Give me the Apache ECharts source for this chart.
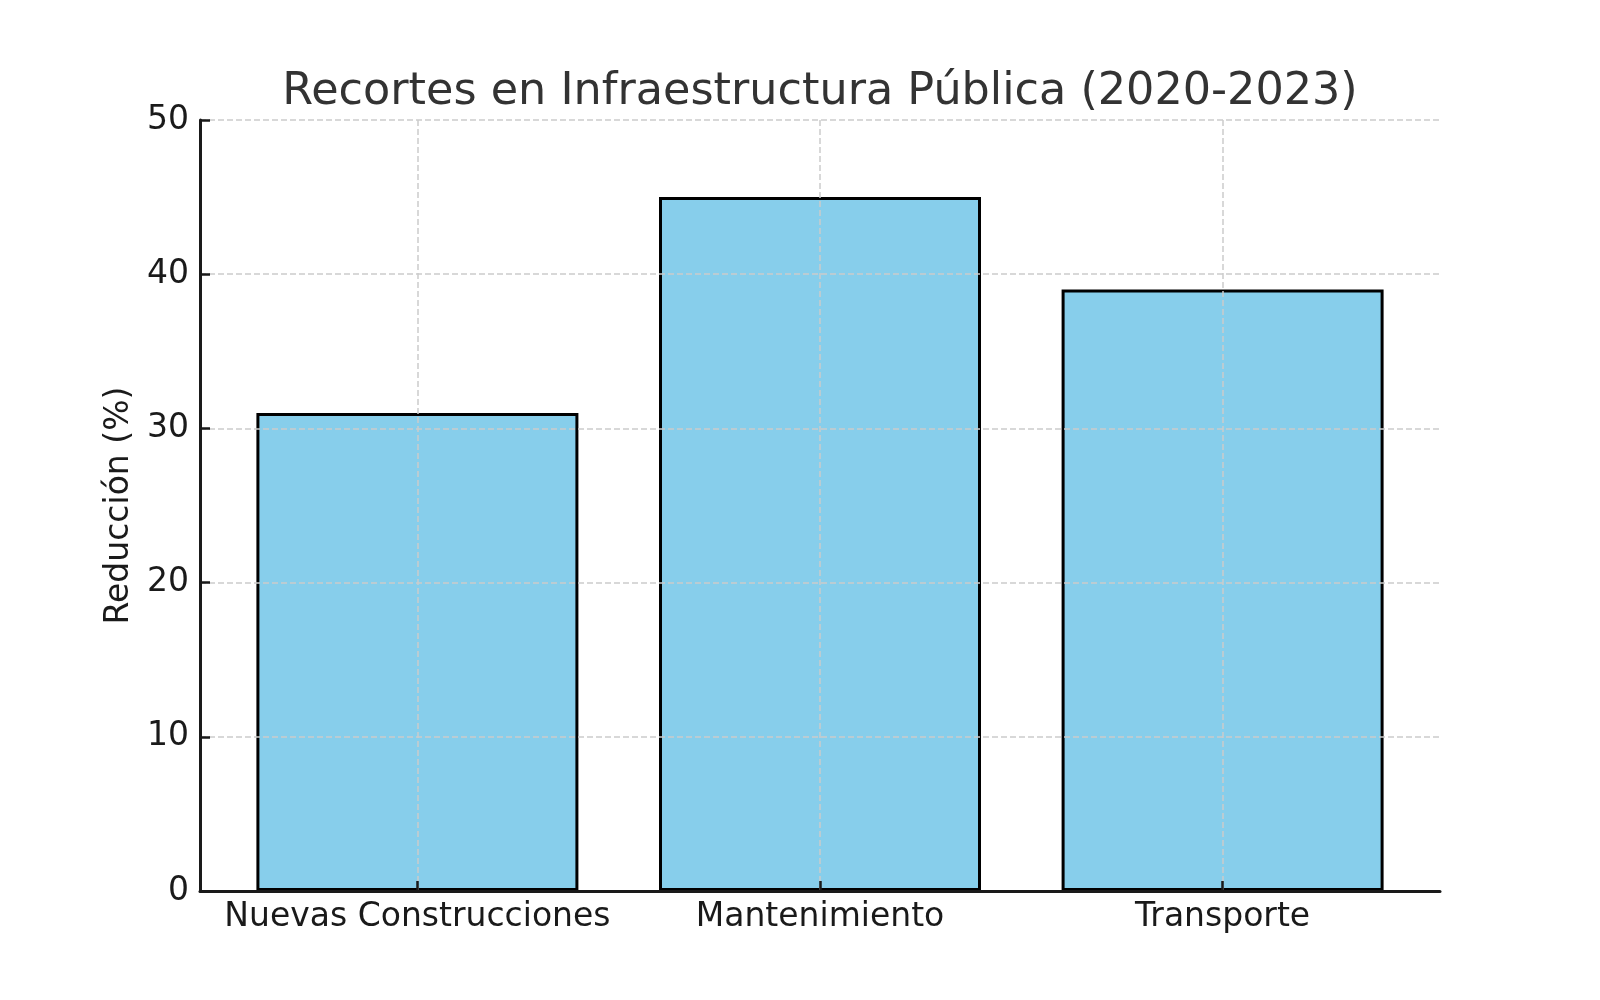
<!DOCTYPE html>
<html>
<head>
<meta charset="utf-8">
<script src="https://cdn.jsdelivr.net/npm/echarts@6/dist/echarts.min.js"></script>
<style>
  html, body { margin: 0; padding: 0; background: #fff; }
  #chart { width: 1600px; height: 1000px; }
</style>
</head>
<body>
<div id="chart"></div>
<script>
// categorias y valores (% de reduccion)
var categories = ['Nuevas Construcciones', 'Mantenimiento', 'Transporte'];
var reduccion = [31, 45, 39];
var yTicks = [0, 10, 20, 30, 40, 50];

var font = 'DejaVu Sans';
var positions = categories.map(function (c, i) { return i; });

var chart = echarts.init(document.getElementById('chart'));
var option = {
    backgroundColor: '#fff',
    animation: false,
    title: {
        text: 'Recortes en Infraestructura Pública (2020-2023)',
        left: 815,
        textAlign: 'center',
        top: 65,
        textStyle: { fontFamily: font, fontSize: 44.5, fontWeight: 'normal', color: '#333' }
    },
    grid: { left: 200, right: 160, top: 120, bottom: 109, containLabel: false },
    xAxis: {
        type: 'value',
        min: -0.54,
        max: 2.54,
        z: 5,
        axisLine: { show: true, onZero: false, lineStyle: { color: '#1a1a1a', width: 3 } },
        axisTick: { show: true, inside: true, length: 10, customValues: positions,
            lineStyle: { color: '#1a1a1a', width: 2.5 } },
        axisLabel: {
            customValues: positions,
            margin: 10,
            fontFamily: font, fontSize: 33, color: '#1a1a1a',
            formatter: function (v) { return categories[Math.round(v)]; }
        },
        splitLine: { show: true, lineStyle: { color: '#cccccc', width: 1.5, type: [6, 3] } }
    },
    yAxis: {
        type: 'value',
        min: yTicks[0],
        max: yTicks[yTicks.length - 1],
        interval: 10,
        z: 5,
        name: 'Reducción (%)',
        nameLocation: 'middle',
        nameRotate: 90,
        nameGap: 53,
        nameTextStyle: { fontFamily: font, fontSize: 33, color: '#1a1a1a' },
        axisLine: { show: true, onZero: false, lineStyle: { color: '#1a1a1a', width: 3 } },
        axisTick: { show: true, inside: true, length: 10, lineStyle: { color: '#1a1a1a', width: 2.5 } },
        axisLabel: { margin: 11, fontFamily: font, fontSize: 33, color: '#1a1a1a' },
        splitLine: { show: true, lineStyle: { color: '#cccccc', width: 1.5, type: [6, 3] } }
    },
    series: [{
        type: 'bar',
        barWidth: 322,
        data: categories.map(function (c, i) { return [i, reduccion[i]]; }),
        itemStyle: { color: '#87CEEB', borderColor: '#000', borderWidth: 3 }
    }]
};
chart.setOption(option);
</script>
</body>
</html>
